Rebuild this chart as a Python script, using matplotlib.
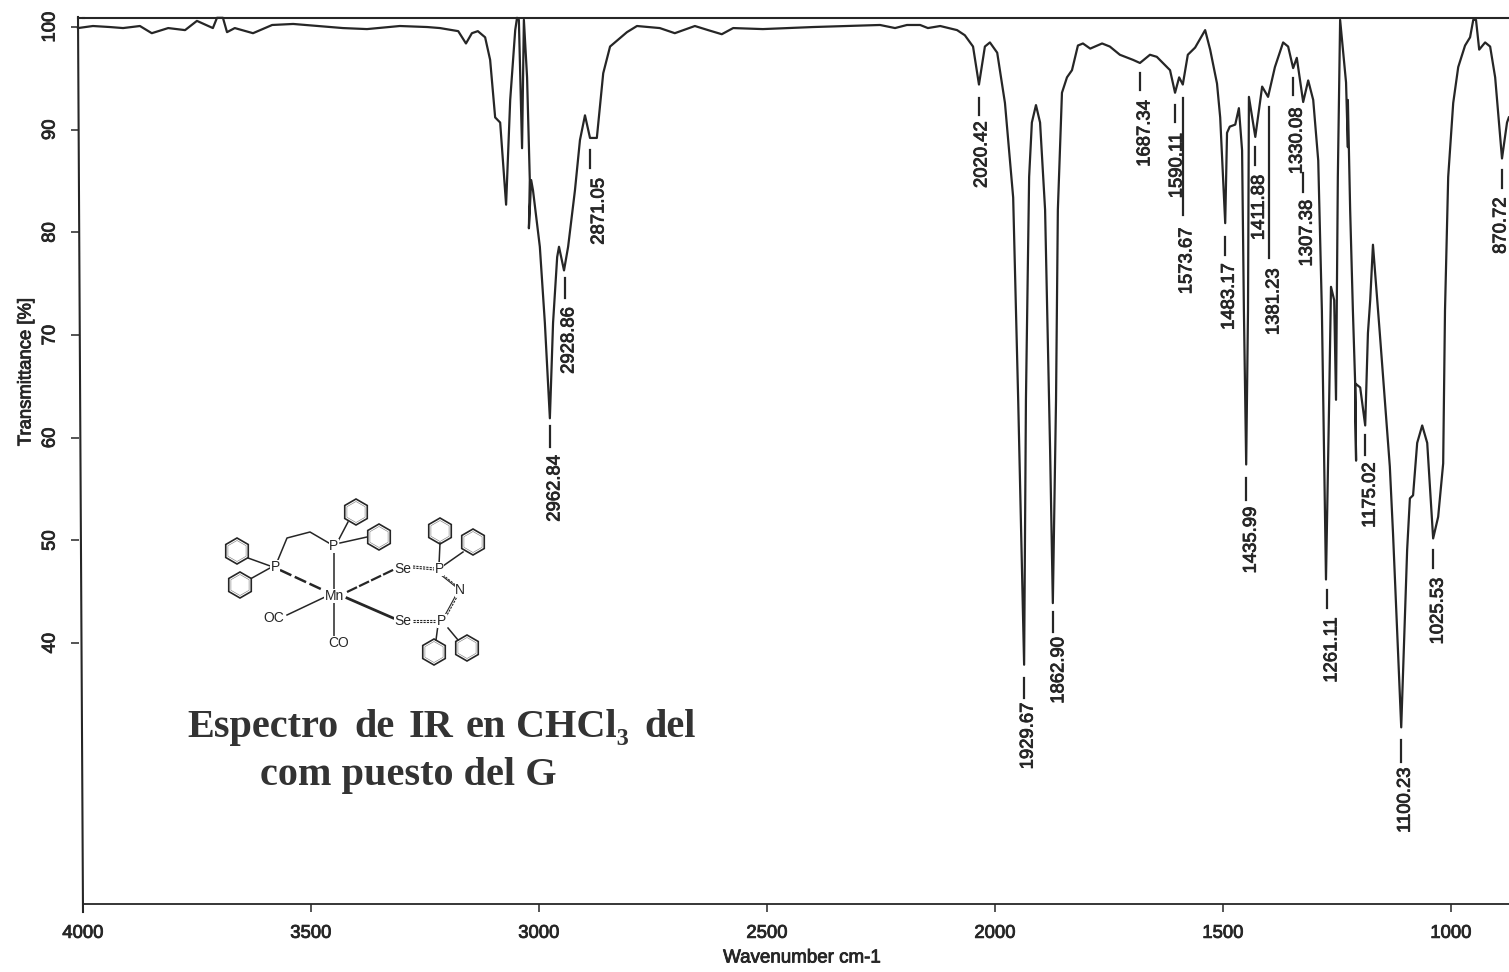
import matplotlib
matplotlib.use("Agg")
import matplotlib.pyplot as plt
import matplotlib.patheffects as pe
from matplotlib.patches import RegularPolygon
from matplotlib.transforms import ScaledTranslation

# Spectrum trace
wavenumber = [
    3998, 3965, 3928, 3899, 3862, 3836, 3800, 3763, 3737, 3702, 3693, 3680, 3671, 3654, 3614, 3572, 3526,
    3417, 3364, 3292, 3232, 3204, 3164, 3147, 3134, 3121, 3105, 3094, 3083, 3072, 3059, 3050, 3039, 3035,
    3031, 3024, 3020, 3013, 3007, 3009, 3004, 3000, 2985, 2974, 2963, 2956, 2947, 2943, 2932, 2923, 2908,
    2897, 2886, 2875, 2860, 2846, 2831, 2794, 2772, 2722, 2689, 2645, 2616, 2586, 2561, 2496, 2386, 2239,
    2206, 2180, 2151, 2134, 2107, 2070, 2053, 2035, 2022, 2009, 1998, 1982, 1965, 1947, 1936, 1923, 1919,
    1912, 1906, 1897, 1888, 1877, 1866, 1860, 1853, 1849, 1840, 1829, 1818, 1805, 1794, 1778, 1752, 1735,
    1713, 1684, 1669, 1647, 1632, 1603, 1592, 1583, 1575, 1564, 1548, 1526, 1515, 1500, 1493, 1482, 1478,
    1472, 1460, 1452, 1445, 1441, 1436, 1432, 1430, 1416, 1401, 1388, 1373, 1355, 1344, 1333, 1325, 1311,
    1300, 1289, 1278, 1270, 1261, 1254, 1250, 1243, 1239, 1235, 1230, 1217, 1213, 1213, 1208, 1202, 1197,
    1195, 1197, 1186, 1175, 1169, 1164, 1158, 1143, 1121, 1114, 1096, 1083, 1077, 1070, 1061, 1050, 1039,
    1026, 1015, 1004, 1000, 993, 982, 971, 956, 945, 938, 932, 925, 912, 901, 890, 875, 864, 860,
]
transmittance = [
    99.9, 100.1, 100.0, 99.9, 100.1, 99.4, 99.9, 99.7, 100.6, 99.9, 100.9, 100.9, 99.5, 99.9, 99.4, 100.2, 100.3,
    99.9, 99.8, 100.1, 100.0, 99.9, 99.6, 98.4, 99.4, 99.6, 99.0, 96.8, 91.2, 90.7, 82.7, 92.9, 99.7, 100.9,
    100.7, 88.2, 100.7, 95.1, 85.1, 80.4, 85.1, 84.1, 78.6, 71.2, 61.9, 71.2, 77.6, 78.6, 76.3, 78.6, 84.1,
    89.0, 91.4, 89.2, 89.2, 95.5, 98.1, 99.5, 100.1, 99.9, 99.4, 100.1, 99.7, 99.3, 99.9, 99.8, 100.0, 100.2,
    99.9, 100.2, 100.2, 99.9, 100.1, 99.7, 99.2, 98.1, 94.4, 98.1, 98.5, 97.5, 92.6, 83.4, 63.7, 37.9, 63.7,
    85.4, 90.7, 92.4, 90.7, 82.2, 58.8, 43.9, 63.7, 82.2, 93.6, 95.1, 95.8, 98.2, 98.4, 97.9, 98.4, 98.1,
    97.3, 96.8, 96.5, 97.3, 97.1, 95.8, 93.6, 95.1, 94.4, 97.3, 98.0, 99.7, 97.8, 94.5, 91.2, 80.9, 89.7,
    90.3, 90.5, 92.1, 88.0, 72.4, 57.4, 72.4, 93.2, 89.3, 94.2, 93.2, 96.1, 98.5, 98.1, 96.0, 97.0, 92.7,
    94.8, 92.9, 87.0, 72.4, 46.2, 63.7, 74.7, 73.4, 63.7, 85.4, 100.7, 94.6, 88.3, 92.9, 82.2, 72.4, 65.3,
    57.8, 65.3, 64.9, 61.2, 70.2, 73.4, 78.8, 70.2, 57.2, 50.7, 31.8, 49.1, 54.1, 54.4, 59.5, 61.2, 59.5,
    50.2, 52.3, 57.5, 72.4, 85.4, 92.6, 96.1, 98.2, 99.0, 100.7, 100.7, 97.8, 98.5, 98.1, 95.1, 87.2, 90.7, 91.2,
]

# Peak picks: printed label, where its dash sits, dash ends and top of the text
peak_labels = [
    "2962.84", "2928.86", "2871.05", "2020.42", "1929.67", "1862.90", "1687.34", "1590.11", "1573.67", "1483.17",
    "1435.99", "1411.88", "1381.23", "1330.08", "1307.38", "1261.11", "1175.02", "1100.23", "1025.53", "870.72",
]
dash_wn = [2963, 2930, 2875, 2022, 1923, 1860, 1669, 1592, 1575, 1482, 1436, 1416, 1386, 1333, 1311, 1259, 1175, 1096, 1026, 875]
dash_top = [61.1, 75.6, 88.0, 93.1, 36.6, 43.0, 95.5, 92.4, 93.1, 79.6, 56.1, 88.3, 92.2, 95.0, 85.8, 45.2, 60.3, 30.6, 49.1, 86.1]
dash_bottom = [59.1, 73.6, 86.3, 91.4, 34.7, 41.1, 93.9, 90.8, 81.7, 77.8, 53.9, 86.6, 77.5, 93.4, 83.9, 43.4, 58.3, 28.4, 47.3, 84.3]
text_top = [58.3, 72.7, 85.3, 90.8, 34.2, 40.6, 92.9, 89.7, 80.5, 77.0, 53.3, 85.6, 76.5, 92.2, 83.2, 42.5, 57.6, 27.9, 46.4, 83.4]
text_nudge = [5, 4, 9, 3, 4, 6, 5, 2, 4, 4, 5, 4, 5, 4, 4, 5, 5, 4, 5, -1]

x_ticks = [4000, 3500, 3000, 2500, 2000, 1500, 1000]
y_ticks = [100, 90, 80, 70, 60, 50, 40]

INK = "#262626"
plt.rcParams["font.family"] = ["Liberation Sans", "DejaVu Sans"]
heavy = [pe.withStroke(linewidth=0.6, foreground=INK)]

fig = plt.figure(figsize=(15.09, 9.72), dpi=100)
ax = fig.add_axes([83 / 1509, (972 - 904) / 972, 1426 / 1509, 886 / 972])
ax.set_xlim(4000, 872.8)
ax.set_ylim(14.6, 100.88)

# the scan is slightly skewed: trace sits 6 px left of the printed x scale
px = fig.dpi_scale_trans
shifted = ax.transData + ScaledTranslation(-6 / 100, 0, px)

ax.plot(wavenumber, transmittance, color=INK, lw=1.6, transform=shifted, clip_on=False, solid_joinstyle="round")

for lab, wn, t0, t1, tt, nudge in zip(peak_labels, dash_wn, dash_top, dash_bottom, text_top, text_nudge):
    ax.plot([wn, wn], [t0, t1], color=INK, lw=1.6, transform=shifted, clip_on=False)
    ax.text(wn, tt, lab, rotation=90, ha="center", va="top", fontsize=13.3, color=INK, path_effects=heavy,
            transform=shifted + ScaledTranslation(nudge / 100, 0, px), clip_on=False)

ax.spines["right"].set_visible(False)
ax.spines["left"].set_visible(False)
ax.spines["top"].set_color(INK)
ax.spines["top"].set_linewidth(1.5)
ax.spines["bottom"].set_color(INK)
ax.spines["bottom"].set_linewidth(1.3)

ax.set_xticks(x_ticks)
ax.set_yticks(y_ticks)
ax.tick_params(axis="x", length=6, width=1.1, color=INK, pad=9, labelsize=13.3, labelcolor=INK)
ax.tick_params(axis="y", length=6, width=1.1, color=INK, pad=8, labelsize=13.3, labelcolor=INK)
for lab in ax.get_xticklabels():
    lab.set_path_effects(heavy)
for lab in ax.get_yticklabels():
    lab.set_rotation(90)
    lab.set_va("center")
    lab.set_path_effects(heavy)
    lab.set_transform(lab.get_transform() + ScaledTranslation(-5 / 100, 0, px))
for tick in ax.yaxis.get_major_ticks():
    tick.tick1line.set_transform(tick.tick1line.get_transform() + ScaledTranslation(-4 / 100, 0, px))

# Overlay in image pixels for the left frame line, axis titles, caption and the molecule
over = fig.add_axes([0, 0, 1, 1])
over.set_xlim(0, 1509)
over.set_ylim(972, 0)
over.axis("off")
over.patch.set_alpha(0)

over.plot([78, 83], [17, 912], color=INK, lw=1.5)
over.plot([78, 84], [18, 18], color=INK, lw=1.5)
over.text(802, 958, "Wavenumber cm-1", ha="center", va="center", fontsize=13.5, color=INK, path_effects=heavy)
over.text(26, 372, "Transmittance [%]", ha="center", va="center", rotation=90, fontsize=13.3, color=INK,
          path_effects=heavy)

serif = {"family": ["Liberation Serif", "DejaVu Serif"], "weight": "bold", "color": "#333333"}
caption_words = ["Espectro", "de", "IR", "en", "CHCl\u2083", "del"]
caption_x = [187, 354, 409, 466, 516, 644]
for word, wx in zip(caption_words, caption_x):
    over.text(wx, 727, word, ha="left", va="center", fontsize=29, **serif)
over.text(260, 775, "com puesto del G", ha="left", va="center", fontsize=29, **serif)

# Molecule sketch
rings = [(356, 512), (379, 537), (237, 551), (240, 585), (440, 531), (473, 542), (434, 652), (467, 648)]
for cx, cy in rings:
    over.add_patch(RegularPolygon((cx, cy), 6, radius=13, fill=False, ec=INK, lw=1.2))
    over.add_patch(RegularPolygon((cx, cy), 6, radius=10.5, fill=False, ec="#777777", lw=0.4))

thin_bonds = [
    [(275, 567), (287, 538), (310, 532), (334, 546)],
    [(334, 550), (334, 590)], [(287, 615), (325, 597)], [(334, 602), (334, 637)],
    [(337, 543), (348, 522)], [(340, 543), (367, 537)], [(273, 567), (248, 558)], [(270, 568), (252, 578)],
    [(439, 565), (440, 543)], [(443, 566), (463, 552)], [(438, 625), (436, 640)], [(448, 628), (458, 640)],
]
for bond in thin_bonds:
    over.plot([p[0] for p in bond], [p[1] for p in bond], color=INK, lw=1.1)
over.plot([280, 323], [570, 590], color=INK, lw=1.8, ls=(0, (5, 1.5)))
over.plot([347, 395], [592, 569], color=INK, lw=1.6, ls=(0, (5, 1)))
over.plot([347, 393], [598, 618], color=INK, lw=2.0)
for x0, y0, x1, y1 in [(413, 567, 435, 569), (413, 621, 435, 621)]:
    over.plot([x0, x1], [y0 - 1, y1 - 1], color=INK, lw=0.8, ls=(0, (2, 1)))
    over.plot([x0, x1], [y0 + 1, y1 + 1], color=INK, lw=0.8, ls=(0, (2, 1)))
for x0, y0, x1, y1 in [(442, 575, 457, 587), (457, 595, 445, 617)]:
    over.plot([x0 - 1, x1 - 1], [y0, y1], color=INK, lw=0.8)
    over.plot([x0 + 1, x1 + 1], [y0, y1], color=INK, lw=0.8, ls=(0, (2, 1)))

atoms = [("P", 334, 546), ("P", 275, 567), ("Mn", 334, 596), ("Se", 403, 569), ("Se", 403, 621), ("P", 439, 569),
         ("P", 442, 621), ("N", 460, 590), ("OC", 274, 618), ("CO", 339, 643)]
for name, ax_x, ax_y in atoms:
    over.text(ax_x, ax_y, name, ha="center", va="center", fontsize=10, color=INK,
              bbox=dict(fc="white", ec="none", pad=0.2))

fig.savefig("out.png", dpi=100)
